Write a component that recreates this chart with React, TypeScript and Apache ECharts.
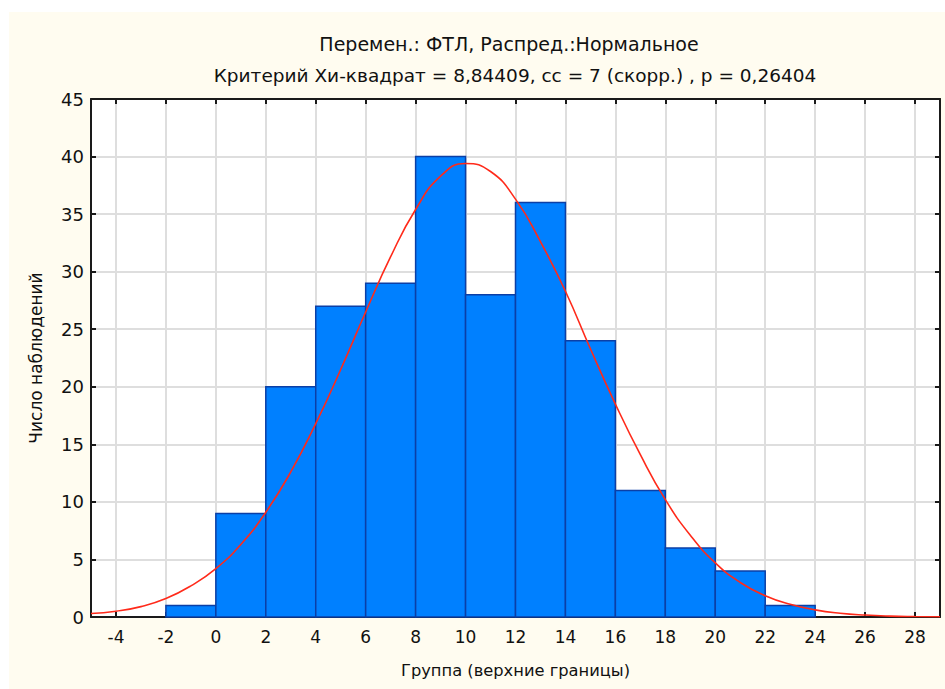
import React, { useEffect, useRef } from "react";
import * as echarts from "echarts";

const titleLine1 = "Перемен.: ФТЛ, Распред.:Нормальное";
const titleLine2 = "Критерий Хи-квадрат = 8,84409, сс = 7 (скорр.) , р = 0,26404";
const xAxisName = "Группа (верхние границы)";
const yAxisName = "Число наблюдений";

// histogram bins (lower bound, upper bound) and observed counts
const binLower = [-2, 0, 2, 4, 6, 8, 10, 12, 14, 16, 18, 20, 22];
const binUpper = [0, 2, 4, 6, 8, 10, 12, 14, 16, 18, 20, 22, 24];
const counts = [1, 9, 20, 27, 29, 40, 28, 36, 24, 11, 6, 4, 1];

// expected (normal) curve
const curveX = [-5, -4, -3, -2, -1, 0, 1, 2, 3, 4, 5, 6, 7, 8, 9, 10, 11, 12, 13, 14, 15, 16, 17, 18, 19, 20, 21, 22, 23, 24, 25, 26, 27, 28, 29];
const curveY = [0.3, 0.5, 0.9, 1.6, 2.7, 4.2, 6.3, 9.1, 12.6, 16.8, 21.5, 26.5, 31.3, 35.4, 38.3, 39.4, 38.7, 36.3, 32.6, 28.3, 23.3, 18.5, 14.1, 10.2, 7.1, 4.7, 3.0, 1.85, 1.1, 0.62, 0.33, 0.17, 0.08, 0.04, 0.02];

const X_MIN = -5;
const X_MAX = 29;
const X_SPLITS = 17; // gives ticks every 2 units, at even values
const Y_MIN = 0;
const Y_MAX = 45;

export default function App() {
  const ref = useRef<HTMLDivElement>(null);

  useEffect(() => {
    document.body.style.margin = "0";
    if (!ref.current) return;
    const chart = echarts.init(ref.current, null, { renderer: "svg" });

    const font = "'DejaVu Sans', Verdana, sans-serif";
    const textColor = "#111111";
    const axisLine = { show: true, onZero: false, lineStyle: { color: "#1a1a1a", width: 2 } };
    const tick = { show: true, inside: true, length: 5, lineStyle: { color: "#1a1a1a", width: 2 } };
    const split = { show: true, lineStyle: { color: "#dedede", width: 2 } };

    const histData = binLower.map((lo, i) => [lo, binUpper[i], counts[i]]);
    const curveData = curveX.map((x, i) => [x, curveY[i]]);
    const evenOnly = (v: number) => (Math.round(v) % 2 === 0 ? String(v) : "");

    chart.setOption({
      animation: false,
      backgroundColor: "#fffcf0",
      textStyle: { fontFamily: font },
      title: [
        {
          text: titleLine1,
          left: 504,
          top: 29,
          textAlign: "center",
          textStyle: { fontFamily: font, fontSize: 19, fontWeight: "normal", color: textColor },
        },
        {
          text: titleLine2,
          left: 510,
          top: 61,
          textAlign: "center",
          textStyle: { fontFamily: font, fontSize: 18.5, fontWeight: "normal", color: textColor },
        },
      ],
      graphic: {
        elements: [
          { type: "rect", z: -100, shape: { x: 0, y: 0, width: 945, height: 12 }, style: { fill: "#ffffff" } },
          { type: "rect", z: -100, shape: { x: 0, y: 0, width: 9, height: 689 }, style: { fill: "#ffffff" } },
        ],
      },
      grid: {
        left: 91,
        right: 5,
        top: 99,
        bottom: 72,
        show: true,
        backgroundColor: "#ffffff",
        borderWidth: 0,
      },
      xAxis: [
        {
          type: "value",
          position: "bottom",
          min: X_MIN,
          max: X_MAX,
          splitNumber: X_SPLITS,
          name: xAxisName,
          nameLocation: "middle",
          nameGap: 45,
          nameTextStyle: { fontFamily: font, fontSize: 16.3, color: textColor },
          axisLine,
          axisTick: tick,
          splitLine: split,
          axisLabel: {
            margin: 11,
            fontFamily: font,
            fontSize: 17,
            color: textColor,
            showMinLabel: false,
            showMaxLabel: false,
            formatter: evenOnly,
          },
        },
        {
          type: "value",
          position: "top",
          min: X_MIN,
          max: X_MAX,
          splitNumber: X_SPLITS,
          axisLine,
          axisTick: tick,
          splitLine: { show: false },
          axisLabel: { show: false },
        },
      ],
      yAxis: [
        {
          type: "value",
          position: "left",
          min: Y_MIN,
          max: Y_MAX,
          interval: 5,
          name: yAxisName,
          nameLocation: "middle",
          nameGap: 47,
          nameTextStyle: { fontFamily: font, fontSize: 17, color: textColor },
          axisLine,
          axisTick: tick,
          splitLine: split,
          axisLabel: { margin: 7, fontFamily: font, fontSize: 18, color: textColor },
        },
        {
          type: "value",
          position: "right",
          min: Y_MIN,
          max: Y_MAX,
          interval: 5,
          axisLine,
          axisTick: tick,
          splitLine: { show: false },
          axisLabel: { show: false },
        },
      ],
      series: [
        {
          type: "custom",
          name: "Наблюдаемые",
          xAxisIndex: 0,
          yAxisIndex: 0,
          data: histData,
          encode: { x: [0, 1], y: 2 },
          renderItem: (params: any, api: any) => {
            const lo = api.value(0);
            const hi = api.value(1);
            const v = api.value(2);
            const p0 = api.coord([lo, v]);
            const p1 = api.coord([hi, 0]);
            return {
              type: "rect",
              shape: { x: p0[0], y: p0[1], width: p1[0] - p0[0], height: p1[1] - p0[1] },
              style: { fill: "#0080ff", stroke: "#0b3fa6", lineWidth: 1.5 },
            };
          },
          z: 2,
        },
        {
          type: "line",
          name: "Нормальное",
          xAxisIndex: 0,
          yAxisIndex: 0,
          data: curveData,
          smooth: true,
          showSymbol: false,
          symbol: "none",
          lineStyle: { color: "#ff2a1a", width: 1.6 },
          z: 3,
        },
      ],
    });

    return () => {
      chart.dispose();
    };
  }, []);

  return <div ref={ref} style={{ width: 945, height: 689 }} />;
}
